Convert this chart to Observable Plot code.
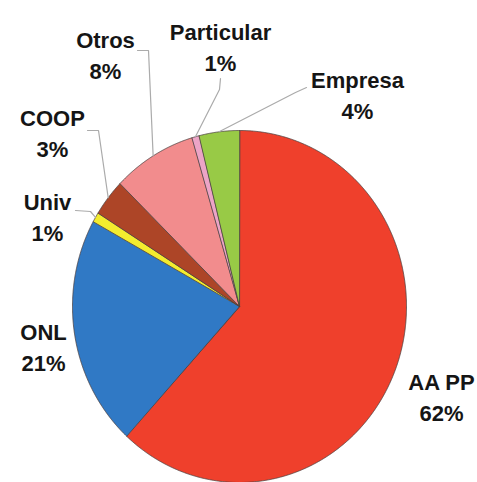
<!DOCTYPE html>
<html><head><meta charset="utf-8">
<script src="https://cdn.jsdelivr.net/npm/d3@7"></script>
<script src="https://cdn.jsdelivr.net/npm/@observablehq/plot@0.6"></script>
<style>body{margin:0;background:#fff}</style>
</head><body><div id="chart"></div>
<script>
// Data (clockwise from 12 o'clock)
const categories = ["AA PP", "ONL", "Univ", "COOP", "Otros", "Particular", "Empresa"];
const shares = [61.8, 21.2, 0.9, 3.4, 8.1, 0.7, 3.9];

// Styles
const colors = ["#ef402c", "#3079c5", "#f3ec2e", "#ad4527", "#f28c8d", "#eca4c6", "#98ca46"];

// Layout (pixels): pie ellipse, label anchors (center x, first-line baseline), leader elbows
const CX = 239, CY = 306, RX = 167, RY = 176;
const labelAnchor = {
  "AA PP": [441, 382], "ONL": [43, 332], "Univ": [47, 202], "COOP": [52, 118],
  "Otros": [105, 40], "Particular": [220, 32], "Empresa": [357, 80]
};
const leaderElbows = {
  "Univ": [[75, 210], [90, 211]],
  "COOP": [[87, 130], [98, 130]],
  "Otros": [[137, 50], [148, 50]],
  "Particular": [[220, 78], [219, 89]],
  "Empresa": [[306, 87], [295, 92]]
};

const fx = px => (px - CX) / RX;
const fy = py => (CY - py) / RY;

const arcs = d3.pie().sort(null).value(d => d)(shares);
const slicePts = [];
arcs.forEach((a, i) => {
  const name = categories[i];
  slicePts.push({name, x: 0, y: 0});
  const n = Math.max(2, Math.ceil((a.endAngle - a.startAngle) / 0.005));
  for (let k = 0; k <= n; k++) {
    const t = a.startAngle + (a.endAngle - a.startAngle) * k / n;
    slicePts.push({name, x: Math.sin(t), y: Math.cos(t)});
  }
});

const leaderPts = [];
Object.entries(leaderElbows).forEach(([name, pts]) => {
  const i = categories.indexOf(name);
  const mid = (arcs[i].startAngle + arcs[i].endAngle) / 2;
  pts.forEach(([px, py]) => leaderPts.push({name, x: fx(px), y: fy(py)}));
  leaderPts.push({name, x: Math.sin(mid), y: Math.cos(mid)});
});

const labels = categories.map((name, i) => {
  const [px, py] = labelAnchor[name];
  return {x: fx(px), y: fy(py - 15.6), text: `${name}\n${Math.round(shares[i])}%`};
});

const chart = Plot.plot({
  width: 477, height: 482, margin: 0,
  style: {background: "#fff"},
  x: {domain: [-1, 1], range: [CX - RX, CX + RX], axis: null},
  y: {domain: [-1, 1], range: [CY + RY, CY - RY], axis: null},
  color: {domain: categories, range: colors},
  marks: [
    Plot.line(slicePts, {x: "x", y: "y", z: "name", fill: "name", stroke: "#4b4040", strokeWidth: 0.8, curve: "linear-closed"}),
    Plot.line(leaderPts, {x: "x", y: "y", z: "name", stroke: "#ababab", strokeWidth: 1.2}),
    Plot.text(labels, {x: "x", y: "y", text: "text", fontSize: 22, fontWeight: "bold",
      fontFamily: "'Liberation Sans', Arial, sans-serif", lineAnchor: "top", lineHeight: 1.45, fill: "#151515"})
  ]
});
document.getElementById("chart").appendChild(chart);
</script>
</body></html>
